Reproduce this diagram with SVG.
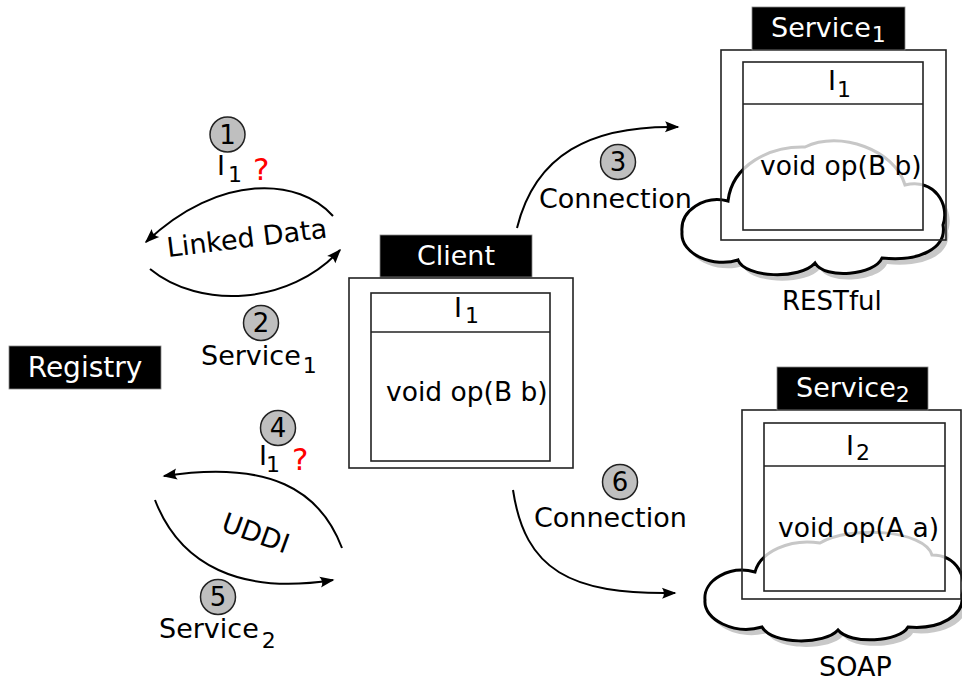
<svg xmlns="http://www.w3.org/2000/svg" width="962" height="681" viewBox="0 0 962 681">
<defs>
<style>
text{font-family:"DejaVu Sans","Liberation Sans",sans-serif;font-size:27px;fill:#000}
.w{fill:#fff}
.red{fill:#f00;font-size:31px}
.sub{font-size:22px}
.op{font-size:26.5px}
.tab{fill:#000;stroke:#888;stroke-width:0.8}
.outer{fill:none;stroke:#222;stroke-width:1.6}
.inner{fill:#fff;fill-opacity:0.78;stroke:#222;stroke-width:1.6}
.div{stroke:#222;stroke-width:1.6}
.cloud{fill:#fff;stroke:#000;stroke-width:3}
.shadow{fill:#c8c8c8}
.num{fill:#bfbfbf;stroke:#222;stroke-width:1.5}
.numt{font-size:26px;text-anchor:middle}
.conn{fill:none;stroke:#000;stroke-width:2;marker-end:url(#arr)}
</style>
<marker id="arr" viewBox="-15 -7 17 14" markerWidth="17" markerHeight="14" refX="0" refY="0" orient="auto" markerUnits="userSpaceOnUse">
<path d="M1.5,0 L-13,-5.5 Q-9,0 -13,5.5 Z" fill="#000"/>
</marker>
<path id="cloud1" d="M728,201 C732,165 770,146 805,147 C840,130 895,150 905,185 C935,178 950,205 943,225 C947,248 920,262 882,258 C875,275 825,280 815,263 C800,280 745,278 738,260 C715,268 680,255 682,232 C680,210 705,195 728,201 Z"/>
<path id="cloud2" d="M755,572 C760,552 790,538 820,543 C850,525 925,530 932,555 C958,555 968,580 962,595 C965,615 940,630 908,627 C900,642 850,645 838,630 C825,645 772,645 762,627 C735,635 703,620 705,600 C703,580 730,565 755,572 Z"/>
</defs>

<g id="registry">
<rect class="tab" x="9" y="346" width="152" height="43"/>
<text class="w" x="85" y="377" text-anchor="middle" style="font-size:28px">Registry</text>
</g>

<g id="client">
<rect class="tab" x="380" y="235" width="152" height="42"/>
<text class="w" x="456" y="265" text-anchor="middle">Client</text>
<rect x="349" y="278" width="224" height="190" fill="#fff" stroke="#222" stroke-width="1.6"/>
<rect class="inner" x="371" y="293" width="179" height="168"/>
<line class="div" x1="371" y1="332" x2="550" y2="332"/>
<text x="454" y="317">I</text><text class="sub" x="465" y="323">1</text>
<text class="op" x="386" y="401">void op(B b)</text>
</g>

<g id="service1">
<use href="#cloud1" class="shadow" transform="translate(5,6)"/>
<use href="#cloud1" class="cloud"/>
<rect class="outer" x="721" y="50" width="225" height="190"/>
<rect class="inner" x="743" y="62" width="180" height="168"/>
<line class="div" x1="743" y1="104" x2="923" y2="104"/>
<rect class="tab" x="752" y="7" width="153" height="43"/>
<text class="w" x="771" y="37">Service<tspan class="sub" dx="1" dy="5">1</tspan></text>
<text x="828" y="90">I</text><text class="sub" x="837" y="97">1</text>
<text class="op" x="760" y="175">void op(B b)</text>
<text x="782" y="310" style="font-size:26px">RESTful</text>
</g>

<g id="service2">
<use href="#cloud2" class="shadow" transform="translate(5,6)"/>
<use href="#cloud2" class="cloud"/>
<rect class="outer" x="742" y="410" width="219" height="189"/>
<rect class="inner" x="764" y="423" width="181" height="168"/>
<line class="div" x1="764" y1="466" x2="945" y2="466"/>
<rect class="tab" x="777" y="367" width="151" height="43"/>
<text class="w" x="796" y="397">Service<tspan class="sub" dx="0" dy="5">2</tspan></text>
<text x="846" y="455">I</text><text class="sub" x="856" y="460">2</text>
<text class="op" x="778" y="537">void op(A a)</text>
<text x="819" y="676">SOAP</text>
</g>

<g id="connectors">
<path class="conn" d="M333,216 C300,178 220,172 146,242"/>
<path class="conn" d="M150,269 C200,310 290,305 340,250"/>
<path class="conn" d="M342,548 C320,490 270,460 164,476"/>
<path class="conn" d="M155,500 C180,565 240,595 333,580"/>
<path class="conn" d="M517,228 C535,155 590,125 678,127"/>
<path class="conn" d="M513,490 C525,570 570,595 675,593"/>
</g>

<g id="labels">
<g id="step1">
<circle class="num" cx="227.5" cy="134.5" r="17.5"/>
<text class="numt" x="227.5" y="143.5">1</text>
<text x="217" y="175">I</text><text class="sub" x="228" y="182">1</text>
<text class="red" x="253" y="180">?</text>
</g>
<text transform="translate(168,257) rotate(-7)">Linked Data</text>
<g id="step2">
<circle class="num" cx="261" cy="323" r="17.5"/>
<text class="numt" x="261" y="332">2</text>
<text x="201" y="365">Service<tspan class="sub" dx="2" dy="8">1</tspan></text>
</g>
<g id="step3">
<circle class="num" cx="618" cy="162" r="17.5"/>
<text class="numt" x="618" y="171">3</text>
<text x="539" y="208">Connection</text>
</g>
<g id="step4">
<circle class="num" cx="278" cy="428" r="17.5"/>
<text class="numt" x="278" y="437">4</text>
<text x="259" y="465">I</text><text class="sub" x="266" y="472">1</text>
<text class="red" x="292" y="470">?</text>
</g>
<text transform="translate(220,530) rotate(20)">UDDI</text>
<g id="step5">
<circle class="num" cx="218" cy="597" r="17.5"/>
<text class="numt" x="218" y="606">5</text>
<text x="159" y="638">Service<tspan class="sub" dx="3" dy="10">2</tspan></text>
</g>
<g id="step6">
<circle class="num" cx="620" cy="482" r="17.5"/>
<text class="numt" x="620" y="491">6</text>
<text x="534" y="527">Connection</text>
</g>
</g>
</svg>
